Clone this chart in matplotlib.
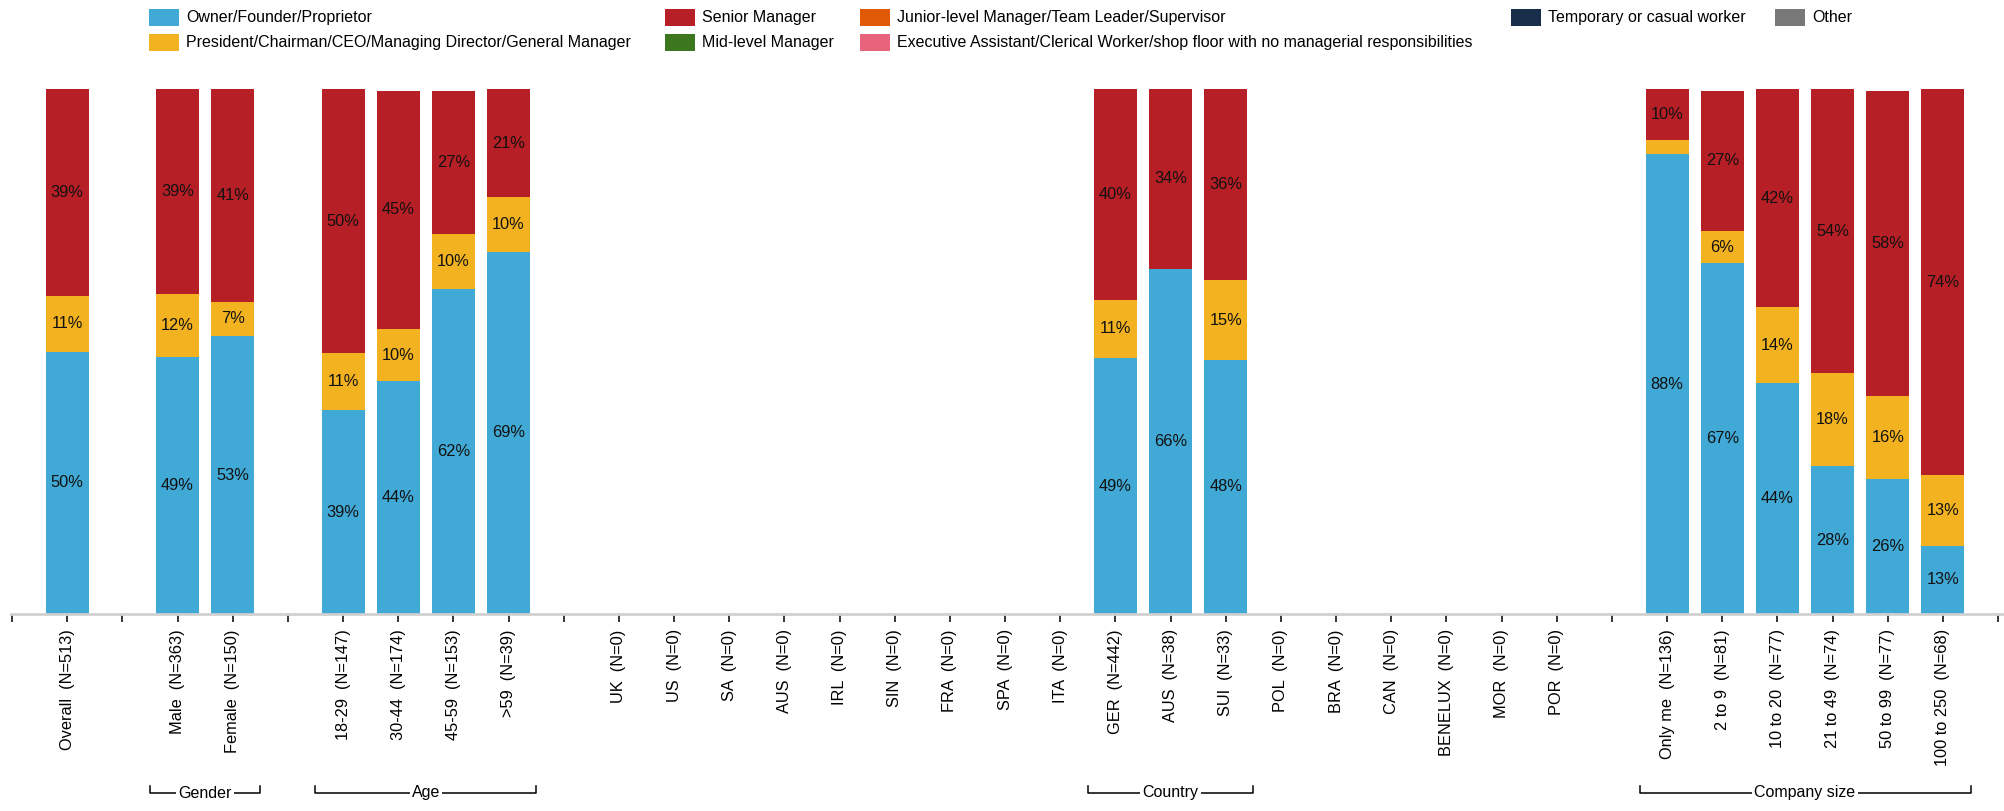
import numpy as np
import matplotlib.pyplot as plt
import matplotlib.transforms as mtransforms
from matplotlib.patches import Rectangle
from matplotlib.lines import Line2D

plt.rcParams['font.family'] = ['Liberation Sans', 'DejaVu Sans']

# slot labels ('' = spacer between groups)
categories = ['', 'Overall  (N=513)', '',
              'Male  (N=363)', 'Female  (N=150)', '',
              '18-29  (N=147)', '30-44  (N=174)', '45-59  (N=153)', '>59  (N=39)', '',
              'UK  (N=0)', 'US  (N=0)', 'SA  (N=0)', 'AUS  (N=0)', 'IRL  (N=0)', 'SIN  (N=0)',
              'FRA  (N=0)', 'SPA  (N=0)', 'ITA  (N=0)', 'GER  (N=442)', 'AUS  (N=38)', 'SUI  (N=33)',
              'POL  (N=0)', 'BRA  (N=0)', 'CAN  (N=0)', 'BENELUX  (N=0)', 'MOR  (N=0)', 'POR  (N=0)', '',
              'Only me  (N=136)', '2 to 9  (N=81)', '10 to 20  (N=77)', '21 to 49  (N=74)',
              '50 to 99  (N=77)', '100 to 250  (N=68)', '']

_ = None
owner = [_, 50.0, _, 49.0, 52.9, _, 38.8, 44.3, 61.9, 69.0, _,
         _, _, _, _, _, _, _, _, _, 48.7, 65.8, 48.4, _, _, _, _, _, _, _,
         87.6, 66.8, 44.0, 28.1, 25.7, 13.0, _]
president = [_, 10.6, _, 11.9, 6.6, _, 10.9, 10.0, 10.4, 10.4, _,
             _, _, _, _, _, _, _, _, _, 11.2, 0.0, 15.2, _, _, _, _, _, _, _,
             2.6, 6.1, 14.4, 17.8, 15.8, 13.4, _]
senior = [_, 39.4, _, 39.1, 40.6, _, 50.3, 45.4, 27.4, 20.6, _,
          _, _, _, _, _, _, _, _, _, 40.1, 34.2, 36.4, _, _, _, _, _, _, _,
          9.8, 26.8, 41.6, 54.1, 58.2, 73.6, _]

roles = ['Owner/Founder/Proprietor',
         'President/Chairman/CEO/Managing Director/General Manager',
         'Senior Manager', 'Mid-level Manager',
         'Junior-level Manager/Team Leader/Supervisor',
         'Executive Assistant/Clerical Worker/shop floor with no managerial responsibilities',
         'Temporary or casual worker', 'Other']
role_colors = ['#41a9d5', '#f3b320', '#b71f26', '#3c761f',
               '#e05a06', '#e8637c', '#182e4a', '#787878']

groups = ['Gender', 'Age', 'Country', 'Company size']
group_first = ['Male  (N=363)', '18-29  (N=147)', 'GER  (N=442)', 'Only me  (N=136)']
group_last = ['Female  (N=150)', '>59  (N=39)', 'SUI  (N=33)', '100 to 250  (N=68)']

W, H = 2004, 811
fig = plt.figure(figsize=(W / 100, H / 100), dpi=100)
ax = fig.add_axes([0, (H - 614) / H, 1, (614 - 89) / H])

n = len(categories)
x = np.arange(n)
bottom = np.zeros(n)
for vals, col in zip([owner, president, senior], role_colors[:3]):
    v = np.array([np.nan if a is None else a for a in vals], dtype=float)
    ok = ~np.isnan(v)
    ax.bar(x[ok], v[ok], bottom=bottom[ok], width=0.78, color=col, linewidth=0)
    for i in np.where(ok)[0]:
        if v[i] >= 5:
            ax.text(i, bottom[i] + v[i] / 2, f'{v[i]:.0f}%', ha='center', va='center',
                    fontsize=11.8, color='#111111')
    bottom[ok] += v[ok]

px = 55.17
ax.set_xlim(-12 / px, (W - 12) / px)
ax.set_ylim(0, 100)
ax.set_yticks([])
for s in ['top', 'left', 'right']:
    ax.spines[s].set_visible(False)
ax.spines['bottom'].set_color('#d0d0d0')
ax.spines['bottom'].set_linewidth(2)
ax.spines['bottom'].set_bounds(-0.02, (W - 12) / px)
ax.set_xticks(x)
ax.set_xticklabels(categories, rotation=90, fontsize=11.8)
ax.tick_params(axis='x', length=6, width=1.1, color='black', pad=5)

# legend
def legend_item(xp, yc, label, color):
    fig.add_artist(Rectangle((xp / W, 1 - (yc + 8) / H), 30 / W, 16 / H,
                             transform=fig.transFigure, color=color, lw=0))
    fig.text((xp + 37) / W, 1 - yc / H, label, ha='left', va='center', fontsize=11.5)

leg_pos = [(149, 17.5), (149, 42.5), (665, 17.5), (665, 42.5),
           (860, 17.5), (860, 42.5), (1511, 17.5), (1775, 17.5)]
for (xp, yc), lab, col in zip(leg_pos, roles, role_colors):
    legend_item(xp, yc, lab, col)

# group brackets under the tick labels
tr = mtransforms.blended_transform_factory(ax.transData, fig.transFigure)
yl = 1 - 793 / H
yt = 1 - 786 / H
for name, a, b in zip(groups, group_first, group_last):
    i0 = categories.index(a) - 0.5
    i1 = categories.index(b) + 0.5
    fig.add_artist(Line2D([i0, i0, i1, i1], [yt, yl, yl, yt], transform=tr,
                          color='black', lw=1.1))
    fig.text((i0 + i1) / 2, yl, name, transform=tr, ha='center', va='center', fontsize=11.5,
             bbox=dict(facecolor='white', edgecolor='none', pad=1.5))

fig.savefig('out.png', dpi=100)
